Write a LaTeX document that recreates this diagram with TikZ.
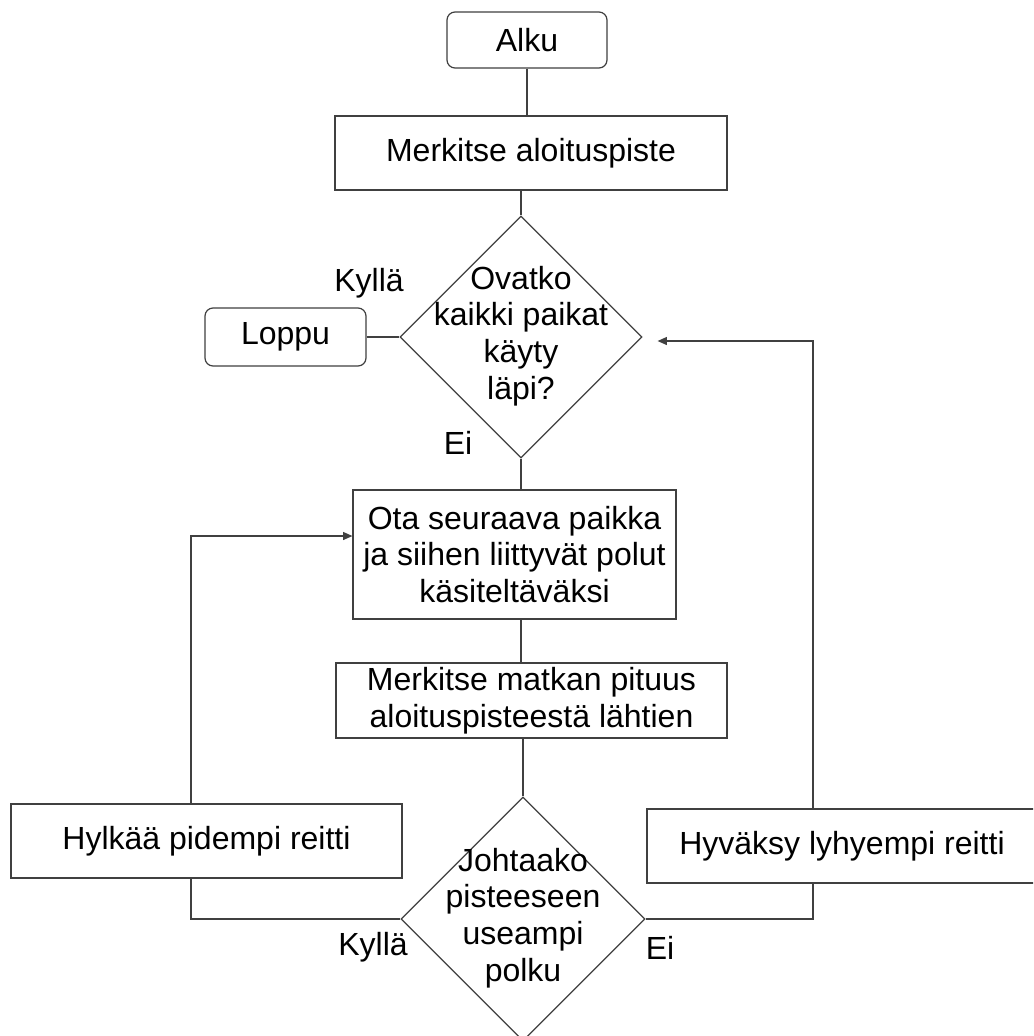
\documentclass[tikz,border=0pt]{standalone}
\usepackage{fontspec}
\setmainfont{Liberation Sans}
\usetikzlibrary{shapes.geometric,arrows.meta,calc}
\begin{document}
\begin{tikzpicture}[x=0.75pt,y=-0.75pt,
  every node/.style={font=\fontsize{24pt}{27.5pt}\selectfont, text=black},
  ln/.style={draw=black!75, line width=0.9pt},
  terminal/.style={ln, rectangle, rounded corners=6pt, inner sep=0pt},
  procbox/.style={ln, rectangle, inner sep=0pt, align=center},
  decision/.style={ln, diamond, inner sep=0pt},
  flow/.style={ln},
  flowarrow/.style={ln, -{Triangle[length=7pt,width=6pt]}},
  tag/.style={inner sep=0pt},
]
\useasboundingbox (0,0) rectangle (1033,1036);
\fill[white] (0,0) rectangle (1033,1036);
\clip (0,0) rectangle (1033,1036);

% nodes
\node[terminal, minimum width=120pt, minimum height=42pt] (alku) at (527,40) {Alku};
\node[procbox, minimum width=294pt, minimum height=55.5pt] (merk1) at (531,153) {Merkitse aloituspiste};
\node[decision, minimum width=181.5pt, minimum height=181.5pt] (d1) at (521,337) {};
\node[align=center, inner sep=0pt] (d1t) at (521,336) {Ovatko\\kaikki paikat\\käyty\\läpi?};
\node[terminal, minimum width=120.75pt, minimum height=43.5pt] (loppu) at (285.5,337) {Loppu};
\node[procbox, minimum width=242.25pt, minimum height=96.75pt] (ota) at (514.5,554.5)
  {Ota seuraava paikka\\ja siihen liittyvät polut\\käsiteltäväksi};
\node[procbox, minimum width=293.25pt, minimum height=56.25pt] (merk2) at (531.5,700.5)
  {Merkitse matkan pituus\\aloituspisteestä lähtien};
\node[decision, minimum width=183pt, minimum height=183pt] (d2) at (523,919) {};
\node[align=center, inner sep=0pt] (d2t) at (523,918) {Johtaako\\pisteeseen\\useampi\\polku};
\node[procbox, minimum width=293.25pt, minimum height=55.5pt] (hylkaa) at (206.5,841) {Hylkää pidempi reitti};
\node[procbox, minimum width=292.5pt, minimum height=55.5pt] (hyvaksy) at (842,846) {Hyväksy lyhyempi reitti};

% branch labels
\node[tag] (kylla1) at (369,283) {Kyllä};
\node[tag] (ei1) at (458,443) {Ei};
\node[tag] (kylla2) at (373,947) {Kyllä};
\node[tag] (ei2) at (660,948) {Ei};

% bend points of the loops
\coordinate (lx) at (191,0);
\coordinate (rx) at (813,0);
\coordinate (otain) at ($(ota.west)+(0,-18.5)$);
\coordinate (d1in) at ($(d1.east)+(15,4)$);

% main spine
\draw[flow] (alku.south) -- (alku.south |- merk1.north);
\draw[flow] (d1.north |- merk1.south) -- (d1.north);
\draw[flow] (loppu.east) -- (d1.west);
\draw[flow] (d1.south) -- (d1.south |- ota.north);
\draw[flow] (d1.south |- ota.south) -- (d1.south |- merk2.north);
\draw[flow] (d2.north |- merk2.south) -- (d2.north);

% longer route rejected: back to the next place
\draw[flow] (d2.west) -| (hylkaa.south -| lx);
\draw[flowarrow] (hylkaa.north -| lx) |- (otain);

% shorter route accepted: back to the check
\draw[flow] (d2.east) -| (hyvaksy.south -| rx);
\draw[flowarrow] (hyvaksy.north -| rx) |- (d1in);
\end{tikzpicture}
\end{document}
